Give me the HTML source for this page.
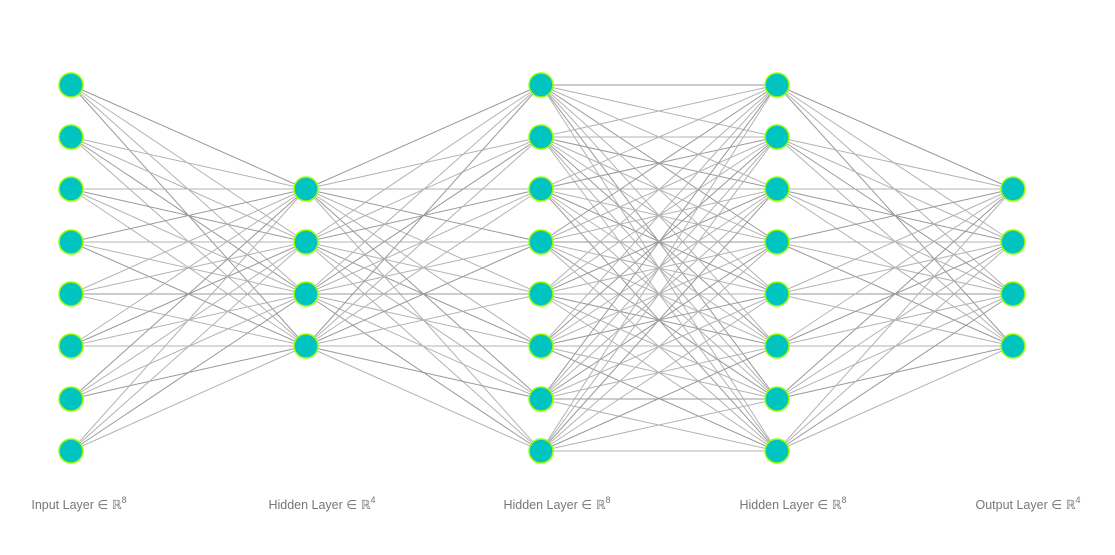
<!DOCTYPE html>
<html><head><meta charset="utf-8"><style>
html,body{margin:0;padding:0;background:#fff;width:1115px;height:555px;overflow:hidden}
svg{display:block}
text{font-family:"Liberation Sans","DejaVu Sans",sans-serif;font-size:12.5px;fill:#777}
</style></head><body>
<svg id="s" width="1115" height="555" xmlns="http://www.w3.org/2000/svg">
<g id="links"></g><g id="nodes"></g>
<text x="79" y="509" text-anchor="middle">Input Layer ∈ ℝ<tspan dy="-6" font-size="9">8</tspan></text>
<text x="322" y="509" text-anchor="middle">Hidden Layer ∈ ℝ<tspan dy="-6" font-size="9">4</tspan></text>
<text x="557" y="509" text-anchor="middle">Hidden Layer ∈ ℝ<tspan dy="-6" font-size="9">8</tspan></text>
<text x="793" y="509" text-anchor="middle">Hidden Layer ∈ ℝ<tspan dy="-6" font-size="9">8</tspan></text>
<text x="1028" y="509" text-anchor="middle">Output Layer ∈ ℝ<tspan dy="-6" font-size="9">4</tspan></text>
</svg>
<script>
var xs=[71,306,541,777,1013],ns=[8,4,8,8,4];
var y8=[85,137,189,242,294,346,399,451],y4=[189,242,294,346];
function ys(n){return n==8?y8:y4}
var L=document.getElementById('links'),N=document.getElementById('nodes'),NS="http://www.w3.org/2000/svg";
for(var l=0;l<4;l++){var a=ys(ns[l]),b=ys(ns[l+1]);
 for(var i=0;i<a.length;i++)for(var j=0;j<b.length;j++){
  var e=document.createElementNS(NS,'line');
  e.setAttribute('x1',xs[l]);e.setAttribute('y1',a[i]);e.setAttribute('x2',xs[l+1]);e.setAttribute('y2',b[j]);
  e.setAttribute('stroke',(i+j)%3==0?'#999':'#b3b3b3');e.setAttribute('stroke-width','1');L.appendChild(e);}}
for(var l=0;l<5;l++){var a=ys(ns[l]);for(var i=0;i<a.length;i++){
 var c=document.createElementNS(NS,'circle');c.setAttribute('cx',xs[l]);c.setAttribute('cy',a[i]);c.setAttribute('r','12');
 c.setAttribute('fill','#00c4c0');c.setAttribute('stroke','#9aff00');c.setAttribute('stroke-width','1.5');N.appendChild(c);}}
</script>
</body></html>
